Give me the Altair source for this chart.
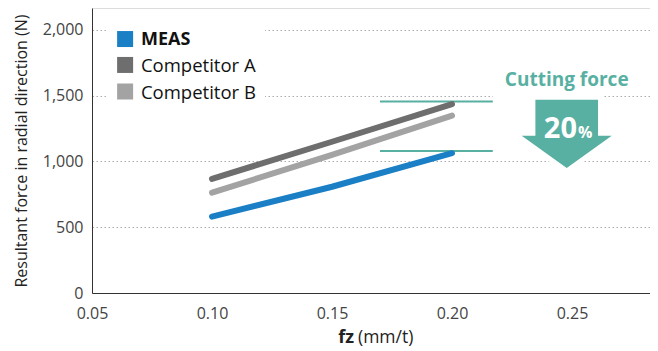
import altair as alt
import pandas as pd

# ---- data ----
fz = [0.10, 0.15, 0.20]
meas = [581, 808, 1063]
comp_a = [868, 1150, 1436]
comp_b = [763, 1050, 1349]
series = ["MEAS", "Competitor A", "Competitor B"]
colors = ["#1b7fc6", "#6e6e6e", "#a3a3a3"]
x_ticks = [0.05, 0.10, 0.15, 0.20, 0.25]
y_ticks = [0, 500, 1000, 1500, 2000]
ref_levels = [1456, 1080]
ref_x = [0.17, 0.217]
teal = "#58b0a2"
FONT = "Open Sans"

# legend anchor positions (data coordinates)
legend_y = [1931, 1734, 1532]
legend_sym_x = 0.0638
legend_txt_x = 0.0704

rows = []
for name, vals in zip(series, [meas, comp_a, comp_b]):
    for x, v in zip(fz, vals):
        rows.append({"fz": x, "force": v, "series": name})
df = pd.DataFrame(rows)

xs = alt.Scale(domain=[0.05, 0.2825], nice=False, zero=False)
ys = alt.Scale(domain=[0, 2167], nice=False)

x_axis = alt.Axis(values=x_ticks, format=".2f", grid=False, ticks=False, labelFlush=False,
                  labelPadding=12, labelFontSize=16, labelColor="#444",
                  domainColor="#333", title=None, labelFont=FONT)
y_axis = alt.Axis(values=y_ticks, format=",.0f", grid=True, ticks=False, labelFlush=False,
                  gridDash=[1.5, 2.5], gridColor="#aaa",
                  labelPadding=9, labelFontSize=16, labelColor="#444",
                  domainColor="#333", labelFont=FONT,
                  title="Resultant force in radial direction (N)",
                  titleFontSize=16, titleFontWeight="normal",
                  titleColor="#222", titlePadding=13, titleFont=FONT)


def X(field):
    return alt.X(field, type="quantitative", scale=xs, axis=x_axis)


def Y(field):
    return alt.Y(field, type="quantitative", scale=ys, axis=y_axis)


lines = alt.Chart(df).mark_line(strokeWidth=6, strokeCap="round").encode(
    x=X("fz"), y=Y("force"),
    color=alt.Color("series:N", scale=alt.Scale(domain=series, range=colors), legend=None),
    order="fz:Q",
)

# legend (white box + swatches + labels)
box_df = pd.DataFrame({"x": [0.0558], "x2": [0.1221], "y": [1430], "y2": [2060]})
box = alt.Chart(box_df).mark_rect(color="white").encode(x=X("x"), x2="x2:Q", y=Y("y"), y2="y2:Q")
leg_df = pd.DataFrame({"series": series, "color": colors, "y": legend_y,
                       "xs": [legend_sym_x] * 3, "xt": [legend_txt_x] * 3,
                       "w": ["bold", "normal", "normal"]})
leg_sym = alt.Chart(leg_df).mark_square(size=256, opacity=1, filled=True).encode(
    x=X("xs"), y=Y("y"), color=alt.Color("color:N", scale=None))
leg_meas = alt.Chart(leg_df[leg_df.w == "bold"]).mark_text(
    font=FONT, fontSize=18, fontWeight="bold", color="#111", align="left", baseline="middle", dy=1).encode(
    x=X("xt"), y=Y("y"), text="series:N")
leg_other = alt.Chart(leg_df[leg_df.w == "normal"]).mark_text(
    font=FONT, fontSize=18.5, color="#111", align="left", baseline="middle", dy=1).encode(
    x=X("xt"), y=Y("y"), text="series:N")

ref_df = pd.DataFrame({"x": [ref_x[0]] * 2, "x2": [ref_x[1]] * 2, "y": ref_levels})
refs = alt.Chart(ref_df).mark_rule(color=teal, strokeWidth=2).encode(
    x=X("x"), x2="x2:Q", y=Y("y"))

mask_df = pd.DataFrame({"x": [0.2171], "x2": [0.2629], "y": [1476], "y2": [1522]})
mask = alt.Chart(mask_df).mark_rect(color="white").encode(
    x=X("x"), x2="x2:Q", y=Y("y"), y2="y2:Q")

arrow_path = "M-0.696,-0.756L0.696,-0.756L0.696,0.044L1,0.044L0,0.756L-1,0.044L-0.696,0.044Z"
arrow_df = pd.DataFrame({"x": [0.2478], "y": [1210]})
arrow_bg = alt.Chart(arrow_df).mark_point(shape=arrow_path, size=8100, filled=True, fill="white",
                                          stroke="white", strokeWidth=10, opacity=1).encode(
    x=X("x"), y=Y("y"))
arrow = alt.Chart(arrow_df).mark_point(shape=arrow_path, size=8100, filled=True, fill=teal,
                                       strokeWidth=0, opacity=1).encode(
    x=X("x"), y=Y("y"))

cf_df = pd.DataFrame({"x": [0.2478], "y": [1575], "t": ["Cutting force"]})
cf = alt.Chart(cf_df).mark_text(font=FONT, fontSize=19, fontWeight="bold", color=teal,
                                baseline="alphabetic", align="center").encode(
    x=X("x"), y=Y("y"), text="t:N")

pct_df = pd.DataFrame({"x": [0.2521], "y": [1180], "a": ["20"], "b": ["%"]})
p20 = alt.Chart(pct_df).mark_text(font=FONT, fontSize=29, fontWeight="bold", color="white",
                                  baseline="alphabetic", align="right").encode(
    x=X("x"), y=Y("y"), text="a:N")
ppc = alt.Chart(pct_df).mark_text(font=FONT, fontSize=16, fontWeight="bold", color="white",
                                  baseline="alphabetic", align="left", dx=1).encode(
    x=X("x"), y=Y("y"), text="b:N")

xt_df = pd.DataFrame({"a": ["fz"], "b": ["(mm/t)"]})
xt1 = alt.Chart(xt_df).mark_text(font=FONT, fontSize=18, fontWeight="bold", color="#222",
                                 baseline="alphabetic", align="right").encode(
    x=alt.value(262), y=alt.value(335), text="a:N")
xt2 = alt.Chart(xt_df).mark_text(font=FONT, fontSize=17.5, color="#222",
                                 baseline="alphabetic", align="left").encode(
    x=alt.value(266), y=alt.value(335), text="b:N")

chart = alt.layer(box, mask, refs, lines, leg_sym, leg_meas, leg_other,
                  arrow_bg, arrow, cf, p20, ppc, xt1, xt2).properties(
    width=558, height=285,
    autosize=alt.AutoSizeParams(type="none"),
    padding={"left": 84, "top": 0, "right": 0, "bottom": 56},
).configure_view(stroke=None).configure(font=FONT)

chart.save("out.html", embed_options={"renderer": "svg", "actions": False})
